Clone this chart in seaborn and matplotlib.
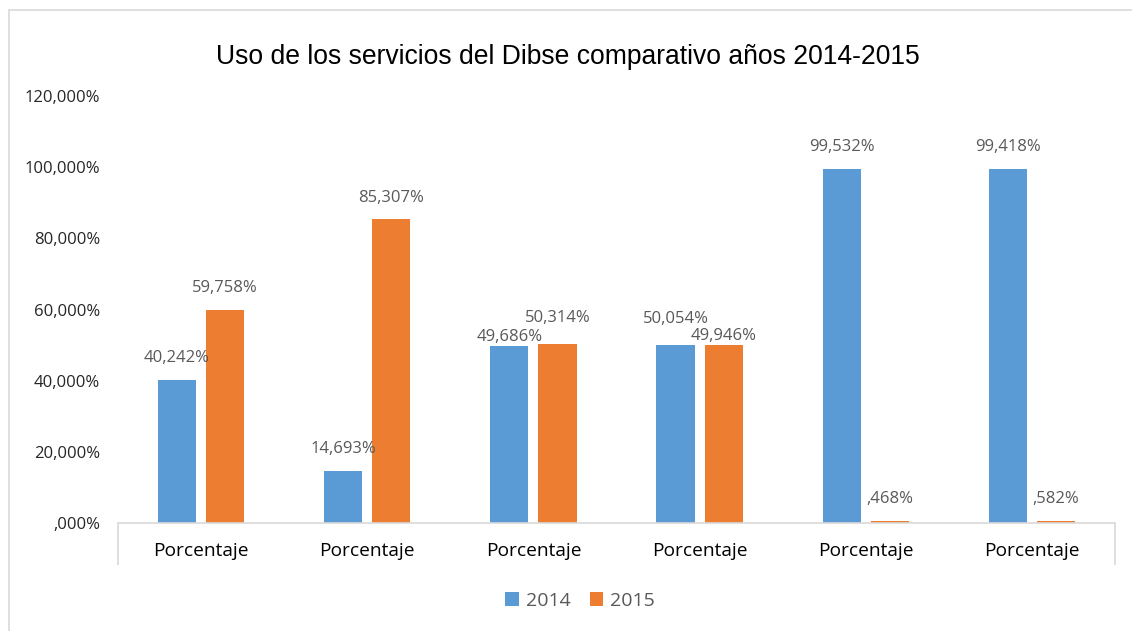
import matplotlib
matplotlib.use("Agg")
import matplotlib.pyplot as plt
import seaborn as sns
import pandas as pd
from matplotlib.patches import Patch
from matplotlib.lines import Line2D

title = "Uso de los servicios del Dibse comparativo años 2014-2015"
categories = ["c1", "c2", "c3", "c4", "c5", "c6"]
category_labels = ["Porcentaje"] * 6
years = ["2014", "2015"]
values_2014 = [40.242, 14.693, 49.686, 50.054, 99.532, 99.418]
values_2015 = [59.758, 85.307, 50.314, 49.946, 0.468, 0.582]
y_ticks = [0, 20, 40, 60, 80, 100, 120]
y_tick_labels = [",000%", "20,000%", "40,000%", "60,000%", "80,000%", "100,000%", "120,000%"]
colors = ["#5B9BD5", "#ED7D31"]

df = pd.DataFrame({
    "cat": categories * 2,
    "year": [years[0]] * 6 + [years[1]] * 6,
    "value": values_2014 + values_2015,
})

sns.set_theme(style="white")
plt.rcParams["font.family"] = ["Open Sans", "DejaVu Sans"]

W, H = 1132, 631
fig = plt.figure(figsize=(W / 100, H / 100), dpi=100)
ax = fig.add_axes([118 / W, 1 - 523 / H, (1115 - 118) / W, (523 - 96) / H])

sns.barplot(data=df, x="cat", y="value", hue="year", order=categories,
            hue_order=years, palette=colors, width=0.58, gap=0.21,
            saturation=1, legend=False, ax=ax, edgecolor="none")

def fmt(v):
    s = f"{v:.3f}".replace(".", ",")
    if s.startswith("0,"):
        s = s[1:]
    return s + "%"

series = [values_2014, values_2015]
for k, cont in enumerate(ax.containers):
    for i, bar in enumerate(cont):
        h = bar.get_height()
        other = series[1 - k][i]
        if abs(h - other) < 2:
            off = 13 if h > other else 1
        else:
            off = 10
        ax.annotate(fmt(h), (bar.get_x() + bar.get_width() / 2, h),
                    xytext=(0, off), textcoords="offset points",
                    ha="center", va="bottom", fontsize=12, color="#595959")

ax.set_xlim(-0.5, 5.5)
ax.set_ylim(0, 120)
ax.set_yticks(y_ticks)
ax.set_yticklabels(y_tick_labels, fontsize=12, color="#262626")
ax.set_xticks(range(len(categories)))
ax.set_xticklabels(category_labels, fontsize=13.8, color="#000000")
ax.set_xlabel("")
ax.set_ylabel("")
for s in ["left", "right", "top"]:
    ax.spines[s].set_visible(False)
ax.spines["bottom"].set_color("#D9D9D9")
ax.spines["bottom"].set_linewidth(1.2)
ax.tick_params(axis="y", length=0, pad=13)
ax.tick_params(axis="x", which="major", length=0, pad=14)
ax.set_xticks([-0.5, 5.5], minor=True)
ax.tick_params(axis="x", which="minor", bottom=True, length=30, width=1.2,
               color="#D9D9D9", direction="out")

fig.text(568 / W, 1 - 57 / H, title, ha="center", va="center", fontsize=19.1,
         color="#000000", family=["Liberation Sans", "DejaVu Sans"])

# outer chart border (top and left edges visible)
fig.add_artist(Line2D([9 / W, 1.0], [1 - 10 / H, 1 - 10 / H], transform=fig.transFigure,
                      color="#D9D9D9", linewidth=1.2))
fig.add_artist(Line2D([9 / W, 9 / W], [0.0, 1 - 10 / H], transform=fig.transFigure,
                      color="#D9D9D9", linewidth=1.2))

handles = [Patch(facecolor=c, edgecolor="none") for c in colors]
leg = fig.legend(handles, years, loc="center", bbox_to_anchor=(580 / W, 1 - 601 / H),
                 ncol=2, frameon=False, fontsize=14, handlelength=0.7, handleheight=0.7,
                 handletextpad=0.35, columnspacing=1.0)
for t in leg.get_texts():
    t.set_color("#595959")

fig.savefig("out.png", dpi=100)
